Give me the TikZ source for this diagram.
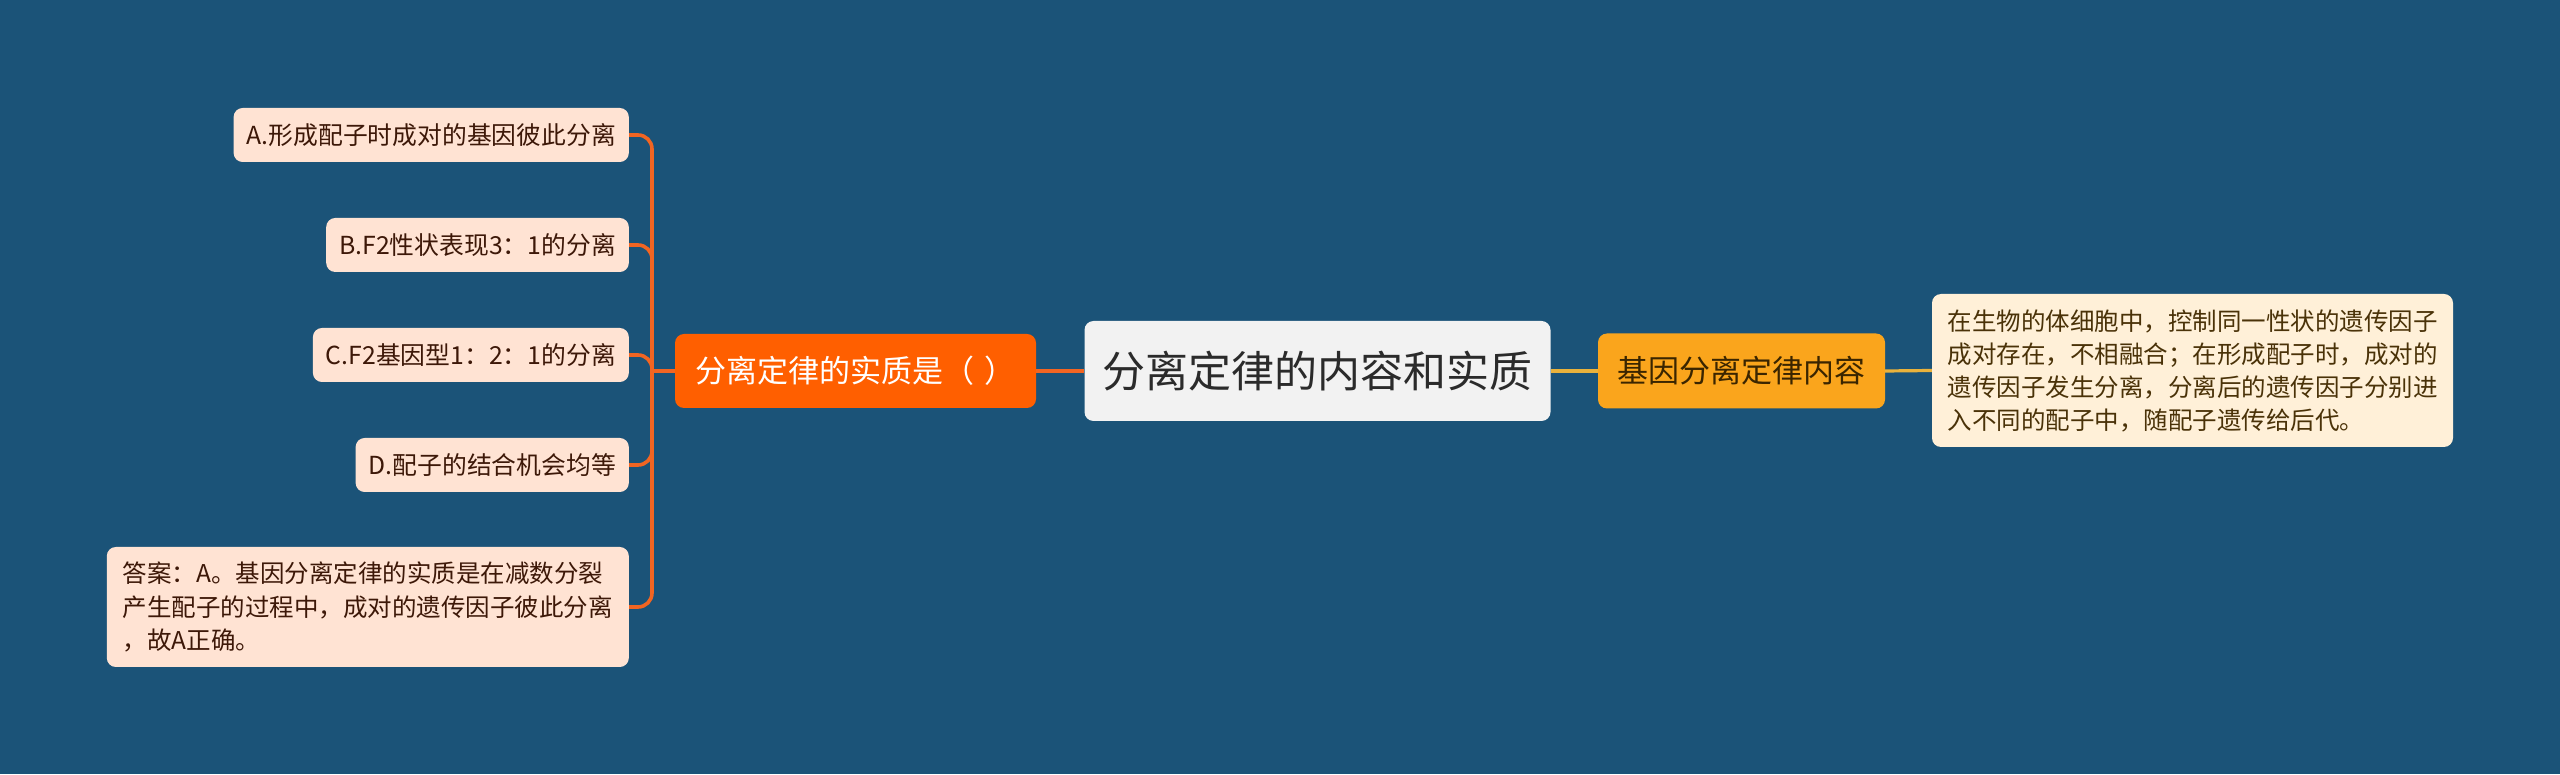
\documentclass[tikz,border=0pt]{standalone}
\usepackage{fontspec}
\setmainfont{Noto Sans CJK SC}
\usepackage{tikz}
\usetikzlibrary{calc}
\definecolor{bg}{HTML}{1B5378}
\definecolor{orline}{HTML}{F26522}
\definecolor{orbox}{HTML}{FF5F00}
\definecolor{optfill}{HTML}{FFE3D3}
\definecolor{opttext}{HTML}{3D1808}
\definecolor{rootfill}{HTML}{F2F2F2}
\definecolor{roottext}{HTML}{2B2B2B}
\definecolor{goldbox}{HTML}{FAA51C}
\definecolor{goldline}{HTML}{E9B23C}
\definecolor{goldtext}{HTML}{3A2500}
\definecolor{notefill}{HTML}{FFF0D8}
\definecolor{notetext}{HTML}{4A3208}

\begin{document}
\begin{tikzpicture}[x=1pt,y=1pt,
  box/.style={rounded corners=9pt, inner xsep=13pt, inner ysep=0pt},
  opt/.style={box, fill=optfill, text=opttext, anchor=east, minimum height=54pt,
    font=\fontsize{24.8pt}{30pt}\selectfont},
  orbranch/.style={draw=orline, line width=3.6pt, rounded corners=14pt},
  goldbranch/.style={draw=goldline, line width=3.2pt}]
\fill[bg] (0,0) rectangle (2560,774);
\useasboundingbox (0,0) rectangle (2560,774);

\path (1317.5,403) node[box, fill=rootfill, text=roottext, minimum width=466pt, minimum height=100pt,
  font=\fontsize{43pt}{48pt}\selectfont] (root) {分离定律的内容和实质};
\path (855.5,403) node[box, fill=orbox, text=white, minimum width=361pt, minimum height=74pt,
  font=\fontsize{31pt}{36pt}\selectfont] (ess) {分离定律的实质是（\hspace{0.35em}）};
\path (1741.5,403) node[box, fill=goldbox, text=goldtext, minimum width=287pt, minimum height=75pt,
  font=\fontsize{31pt}{36pt}\selectfont] (cont) {基因分离定律内容};
\path (2192.5,403.5) node[box, fill=notefill, text=notetext, minimum width=521pt, minimum height=153pt,
  align=left, font=\fontsize{24.5pt}{33pt}\selectfont] (note)
  {在生物的体细胞中，控制同一性状的遗传因子\\成对存在，不相融合；在形成配子时，成对的\\遗传因子发生分离，分离后的遗传因子分别进\\入不同的配子中，随配子遗传给后代。};

\path (629,639) node[opt] (optA) {A.形成配子时成对的基因彼此分离};
\path (629,529) node[opt] (optB) {B.F2性状表现3：1的分离};
\path (629,419) node[opt] (optC) {C.F2基因型1：2：1的分离};
\path (629,309) node[opt] (optD) {D.配子的结合机会均等};
\path (629,167) node[opt, minimum width=522pt, minimum height=120pt, align=left,
  font=\fontsize{24.5pt}{33.5pt}\selectfont] (ans)
  {答案：A。基因分离定律的实质是在减数分裂\\产生配子的过程中，成对的遗传因子彼此分离\\，故A正确。};

\coordinate (hub) at (652,403);
\foreach \n in {optA,optB,optC,optD,ans}
  \draw[orbranch] (\n.east) -| (hub);
\draw[orbranch] (hub) -- (ess.west);
\draw[orbranch] (ess.east) -- (root.west);
\draw[goldbranch] (root.east) -- (cont.west);
\draw[goldbranch] (cont.east) -- (note.west);
\end{tikzpicture}
\end{document}
